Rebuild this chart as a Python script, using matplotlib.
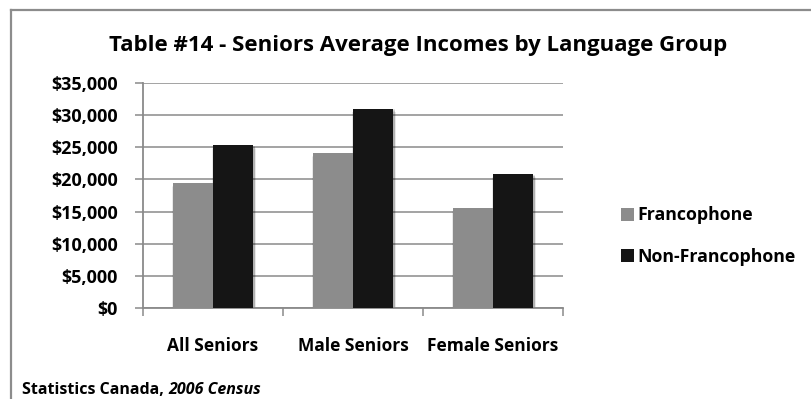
import matplotlib.pyplot as plt
import numpy as np
from matplotlib.lines import Line2D
from matplotlib.ticker import FuncFormatter, FixedLocator

groups = ["All Seniors", "Male Seniors", "Female Seniors"]
series = ["Francophone", "Non-Francophone"]
francophone = [19400, 24100, 15500]
non_francophone = [25300, 31000, 20800]
colors = ["#8c8c8c", "#151515"]

plt.rcParams['font.family'] = ['Open Sans', 'DejaVu Sans']
plt.rcParams['font.weight'] = 'bold'

fig = plt.figure(figsize=(8.12, 3.99), dpi=100)
fig.set_facecolor("white")
ax = fig.add_axes([143/812, 1-308/399, 420/812, 225/399])

x = np.arange(len(groups))
w = 0.285
offsets = [-w/2, w/2]

# soft shadow under the bars
for vals, off in zip([francophone, non_francophone], offsets):
    for k, a in [(5, 0.04), (4, 0.05), (3, 0.07), (2, 0.08), (1, 0.10)]:
        ax.bar(x + off + 0.008, vals, w + 0.007*k, bottom=-110*k,
               color="black", alpha=a, zorder=2, linewidth=0)

bars = []
for vals, off, c, name in zip([francophone, non_francophone], offsets, colors, series):
    bars.append(ax.bar(x + off, vals, w, color=c, zorder=3, label=name, linewidth=0))

ax.set_xlim(-0.5, 2.5)
ax.set_ylim(0, 35000)
ax.set_yticks(np.arange(0, 35001, 5000))
ax.yaxis.set_major_formatter(FuncFormatter(lambda v, p: "${:,.0f}".format(v)))
ax.yaxis.grid(True, color="#8a8a8a", linewidth=1.1, zorder=0)
ax.set_axisbelow(True)

ax.set_xticks(x)
ax.set_xticklabels(groups, fontsize=12.5, fontweight='bold')
ax.xaxis.set_minor_locator(FixedLocator([-0.5, 0.5, 1.5, 2.5]))
ax.tick_params(axis='x', which='major', length=0, pad=21)
ax.tick_params(axis='x', which='minor', length=6, color="#8a8a8a", width=1.1)
ax.tick_params(axis='y', length=6, color="#8a8a8a", width=1.1, labelsize=13, pad=12)
for lab in ax.get_yticklabels():
    lab.set_fontweight('bold')

for s in ["top", "right"]:
    ax.spines[s].set_visible(False)
for s in ["left", "bottom"]:
    ax.spines[s].set_color("#8a8a8a")
    ax.spines[s].set_linewidth(1.3)

fig.text(418/812, 1-46/399, "Table #14 - Seniors Average Incomes by Language Group",
         ha='center', va='center', fontsize=16, fontweight='bold')

leg = fig.legend(handles=bars, labels=series, loc='center left',
                 bbox_to_anchor=(621/812, 1-236/399), frameon=False,
                 fontsize=12.8, handlelength=0.72, handleheight=0.72,
                 handletextpad=0.2, labelspacing=1.3, borderpad=0, borderaxespad=0)
for t in leg.get_texts():
    t.set_fontweight('bold')

src = fig.text(22/812, 1-390/399, "Statistics Canada, ", ha='left', va='center',
               fontsize=11.5, fontweight='bold')
fig.canvas.draw()
bb = src.get_window_extent()
fig.text(bb.x1 / fig.bbox.width, 1-390/399, "2006 Census", ha='left', va='center',
         fontsize=11.5, fontweight='bold', style='italic')

# outer frame (top and left edges)
fig.add_artist(Line2D([11/812, 1], [1-10/399, 1-10/399], color="#8c8c8c", linewidth=1.6))
fig.add_artist(Line2D([11/812, 11/812], [0, 1-10/399], color="#8c8c8c", linewidth=1.6))

fig.savefig("out.png", dpi=100, facecolor="white")
